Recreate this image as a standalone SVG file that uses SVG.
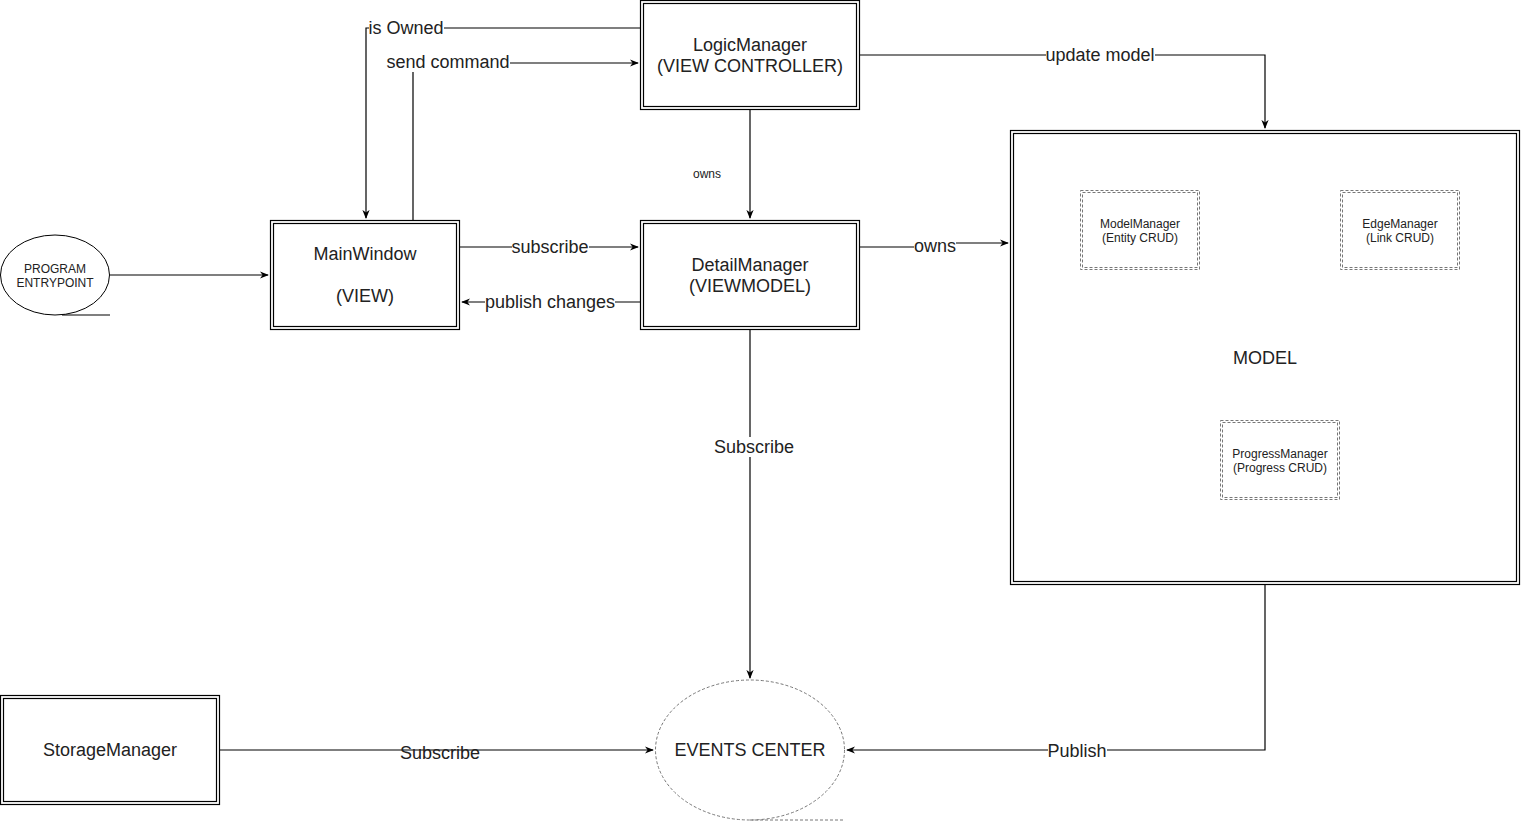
<svg xmlns="http://www.w3.org/2000/svg" width="1521" height="821" viewBox="0 0 1521 821">
<defs>
<marker id="arr" viewBox="0 0 10 10" refX="9" refY="5" markerWidth="9" markerHeight="9" orient="auto" markerUnits="userSpaceOnUse">
<path d="M0,1 L10,5 L0,9 L3,5 Z" fill="#000"/>
</marker>
</defs>
<style>
text{font-family:"Liberation Sans",Arial,sans-serif;fill:#222;text-anchor:middle;dominant-baseline:central}
.t16{font-size:18px}
.t12{font-size:12px}
.box{fill:#fff;stroke:#000;stroke-width:1.2}
.dash{fill:#fff;stroke:#777;stroke-width:1;stroke-dasharray:3 2}
.con{fill:none;stroke:#000;stroke-width:1.2}
.lbl{fill:#fff;stroke:none}
</style>
<rect width="1521" height="821" fill="#fff"/>

<g id="connectors">
<polyline class="con" points="640,28 366,28 366,218" marker-end="url(#arr)"/>
<polyline class="con" points="413,220 413,63 638,63" marker-end="url(#arr)"/>
<polyline class="con" points="860,55 1265,55 1265,128" marker-end="url(#arr)"/>
<line class="con" x1="750" y1="110" x2="750" y2="218" marker-end="url(#arr)"/>
<line class="con" x1="460" y1="247" x2="638" y2="247" marker-end="url(#arr)"/>
<line class="con" x1="640" y1="302" x2="462" y2="302" marker-end="url(#arr)"/>
<polyline class="con" points="860,247 935,247 935,243 1008,243" marker-end="url(#arr)"/>
<line class="con" x1="750" y1="330" x2="750" y2="678" marker-end="url(#arr)"/>
<line class="con" x1="220" y1="750" x2="653" y2="750" marker-end="url(#arr)"/>
<polyline class="con" points="1265,585 1265,750 847,750" marker-end="url(#arr)"/>
<line class="con" x1="110" y1="275" x2="268" y2="275" marker-end="url(#arr)"/>
<rect class="lbl" x="369" y="18" width="75" height="20"/>
<text class="t16" x="406" y="28">is Owned</text>
<rect class="lbl" x="387" y="52" width="123" height="20"/>
<text class="t16" x="448" y="62">send command</text>
<rect class="lbl" x="1046" y="45" width="109" height="20"/>
<text class="t16" x="1100" y="55">update model</text>
<text class="t12" x="707" y="174">owns</text>
<rect class="lbl" x="512" y="237" width="77" height="20"/>
<text class="t16" x="550" y="247">subscribe</text>
<rect class="lbl" x="485" y="292" width="130" height="20"/>
<text class="t16" x="550" y="302">publish changes</text>
<rect class="lbl" x="914" y="236" width="42" height="20"/>
<text class="t16" x="935" y="246">owns</text>
<rect class="lbl" x="714" y="437" width="81" height="20"/>
<text class="t16" x="754" y="447">Subscribe</text>
<text class="t16" x="440" y="753">Subscribe</text>
<rect class="lbl" x="1048" y="741" width="59" height="20"/>
<text class="t16" x="1077" y="751">Publish</text>
</g>

<g id="logicmanager">
<rect class="box" x="640.5" y="0.5" width="219" height="109"/>
<rect class="box" x="643.5" y="3.5" width="213" height="103"/>
<text class="t16" x="750" y="45">LogicManager</text>
<text class="t16" x="750" y="66">(VIEW CONTROLLER)</text>
</g>

<g id="mainwindow">
<rect class="box" x="270.5" y="220.5" width="189" height="109"/>
<rect class="box" x="273.5" y="223.5" width="183" height="103"/>
<text class="t16" x="365" y="254">MainWindow</text>
<text class="t16" x="365" y="296">(VIEW)</text>
</g>

<g id="detailmanager">
<rect class="box" x="640.5" y="220.5" width="219" height="109"/>
<rect class="box" x="643.5" y="223.5" width="213" height="103"/>
<text class="t16" x="750" y="265">DetailManager</text>
<text class="t16" x="750" y="286">(VIEWMODEL)</text>
</g>

<g id="model">
<rect class="box" x="1010.5" y="130.5" width="509" height="454" stroke="#666"/>
<rect class="box" x="1013.5" y="133.5" width="503" height="448" stroke="#666"/>
<text class="t16" x="1265" y="358">MODEL</text>
</g>

<g id="modelmanager">
<rect class="dash" x="1080.5" y="190.5" width="119" height="79"/>
<rect class="dash" x="1082.5" y="192.5" width="115" height="75"/>
<text class="t12" x="1140" y="224">ModelManager</text>
<text class="t12" x="1140" y="238">(Entity CRUD)</text>
</g>

<g id="edgemanager">
<rect class="dash" x="1340.5" y="190.5" width="119" height="79"/>
<rect class="dash" x="1342.5" y="192.5" width="115" height="75"/>
<text class="t12" x="1400" y="224">EdgeManager</text>
<text class="t12" x="1400" y="238">(Link CRUD)</text>
</g>

<g id="progressmanager">
<rect class="dash" x="1220.5" y="420.5" width="119" height="79"/>
<rect class="dash" x="1222.5" y="422.5" width="115" height="75"/>
<text class="t12" x="1280" y="454">ProgressManager</text>
<text class="t12" x="1280" y="468">(Progress CRUD)</text>
</g>

<g id="entrypoint">
<ellipse cx="55" cy="275" rx="54.5" ry="40" fill="#fff" stroke="#000" stroke-width="1"/>
<line x1="62" y1="315" x2="110" y2="315" stroke="#000" stroke-width="1.2"/>
<text class="t12" x="55" y="269">PROGRAM</text>
<text class="t12" x="55" y="283">ENTRYPOINT</text>
</g>

<g id="eventscenter">
<ellipse cx="750" cy="750" rx="94.5" ry="70" fill="#fff" stroke="#777" stroke-width="1" stroke-dasharray="3 2"/>
<line x1="750" y1="820" x2="845" y2="820" stroke="#777" stroke-width="1" stroke-dasharray="3 2"/>
<text class="t16" x="750" y="750">EVENTS CENTER</text>
</g>

<g id="storagemanager">
<rect class="box" x="0.5" y="695.5" width="219" height="109"/>
<rect class="box" x="3.5" y="698.5" width="213" height="103"/>
<text class="t16" x="110" y="750">StorageManager</text>
</g>
</svg>
